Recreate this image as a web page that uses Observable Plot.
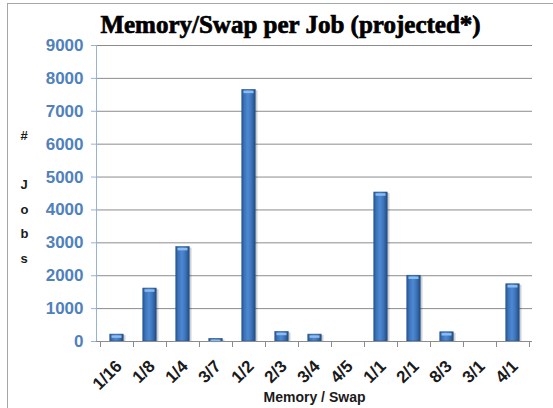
<!DOCTYPE html>
<html>
<head>
<meta charset="utf-8">
<script src="https://cdn.jsdelivr.net/npm/d3@7"></script>
<script src="https://cdn.jsdelivr.net/npm/@observablehq/plot@0.6"></script>
<style>
  html, body { margin: 0; padding: 0; background: #fff; }
  #wrap { position: relative; width: 553px; height: 408px; overflow: hidden; }
  #border { position: absolute; left: 7px; top: 3px; right: -5px; bottom: -5px;
            border-top: 1.5px solid #a6a6a6; border-left: 1.5px solid #a6a6a6; pointer-events: none; }
  svg { display: block; }
</style>
</head>
<body>
<div id="wrap"><div id="border"></div></div>
<script>
const categories = ["1/16","1/8","1/4","3/7","1/2","2/3","3/4","4/5","1/1","2/1","8/3","3/1","4/1"];
const jobs = [210, 1610, 2870, 80, 7650, 290, 210, 0, 4530, 2000, 280, 0, 1740];
const yTicks = [0,1000,2000,3000,4000,5000,6000,7000,8000,9000];
const titleText = "Memory/Swap per Job (projected*)";
const xLabel = "Memory / Swap";
const yLabel = "#\n\nJ\no\nb\ns";

const data = categories.map((c, i) => ({cat: c, v: jobs[i]}));
const nonzero = data.filter(d => d.v > 0);

function defs() {
  const svg = d3.create("svg:g");
  const g = svg.append("defs").append("linearGradient")
    .attr("id", "barGrad").attr("x1", "0").attr("x2", "1").attr("y1", "0").attr("y2", "0");
  [[0, "#285895"], [0.2, "#3d74bb"], [0.45, "#4d89d2"], [0.7, "#3e76bc"], [1, "#224c84"]]
    .forEach(([o, c]) => g.append("stop").attr("offset", o).attr("stop-color", c));
  return svg.node();
}

function axisLines(index, {x, y}, values, dims) {
  const g = d3.create("svg:g");
  const bw = x.bandwidth();
  const edges = categories.map(c => x(c)).concat([x(categories[categories.length - 1]) + bw]);
  const y0 = y(0);
  g.append("line").attr("x1", dims.marginLeft).attr("x2", dims.width - dims.marginRight)
    .attr("y1", y0 + 0.5).attr("y2", y0 + 0.5).attr("stroke", "#8c8c8c");
  edges.forEach(e => g.append("line").attr("x1", e + 0.5).attr("x2", e + 0.5)
    .attr("y1", y0).attr("y2", y0 + 6).attr("stroke", "#8c8c8c"));
  g.append("line").attr("x1", dims.marginLeft + 0.5).attr("x2", dims.marginLeft + 0.5)
    .attr("y1", y(yTicks[yTicks.length - 1])).attr("y2", y0).attr("stroke", "#95b3d7");
  return g.node();
}

const chart = Plot.plot({
  width: 553,
  height: 408,
  marginLeft: 96,
  marginRight: 21,
  marginTop: 45,
  marginBottom: 67,
  style: {background: "transparent", overflow: "visible"},
  x: {type: "band", domain: categories, padding: 0, label: null},
  y: {domain: [0, 9000], label: null},
  marks: [
    defs,
    Plot.gridY(yTicks, {stroke: "#8c8c8c", strokeOpacity: 1}),
    Plot.barY(nonzero, {x: "cat", y: "v", fill: "#000", fillOpacity: 0.18, insetLeft: 10, insetRight: 9, dx: 1.5, dy: 1}),
    Plot.barY(nonzero, {x: "cat", y: "v", fill: "url(#barGrad)", stroke: "#24528d", strokeWidth: 0.6, insetLeft: 9.8, insetRight: 9.8}),
    Plot.tickY(nonzero, {x: "cat", y: "v", stroke: "#8cbcf0", strokeWidth: 2.5, insetLeft: 11.5, insetRight: 11.5, dy: 2}),
    axisLines,
    Plot.axisY({ticks: yTicks, tickSize: 5, tickPadding: 8, stroke: "#95b3d7", fill: "#4f81bd",
      fontSize: 17, fontWeight: "bold", fontFamily: "Liberation Sans", tickFormat: d3.format("d"), label: null}),
    Plot.axisX({tickSize: 0, tickPadding: 22, tickRotate: -45, fill: "#1a1a1a",
      fontSize: 17, fontWeight: "bold", fontFamily: "Liberation Sans", label: null, dx: 2}),
    Plot.text([titleText], {frameAnchor: "top", dx: -24, dy: -13, lineAnchor: "bottom", text: d => d,
      fontSize: 25, fontWeight: "bold", fontFamily: "Liberation Serif", fill: "#000",
      stroke: "#000", strokeWidth: 0.7, letterSpacing: "0.9px"}),
    Plot.text([xLabel], {frameAnchor: "bottom", dy: 60, lineAnchor: "bottom", text: d => d,
      fontSize: 14, fontWeight: "bold", fontFamily: "Liberation Sans", fill: "#1a1a1a"}),
    Plot.text([yLabel], {frameAnchor: "left", dx: -76, dy: 0, lineAnchor: "middle", lineHeight: 1.9, text: d => d,
      fontSize: 13, fontWeight: "bold", fontFamily: "Liberation Sans", fill: "#1a1a1a"})
  ]
});
document.getElementById("wrap").insertBefore(chart, document.getElementById("border"));
</script>
</body>
</html>
